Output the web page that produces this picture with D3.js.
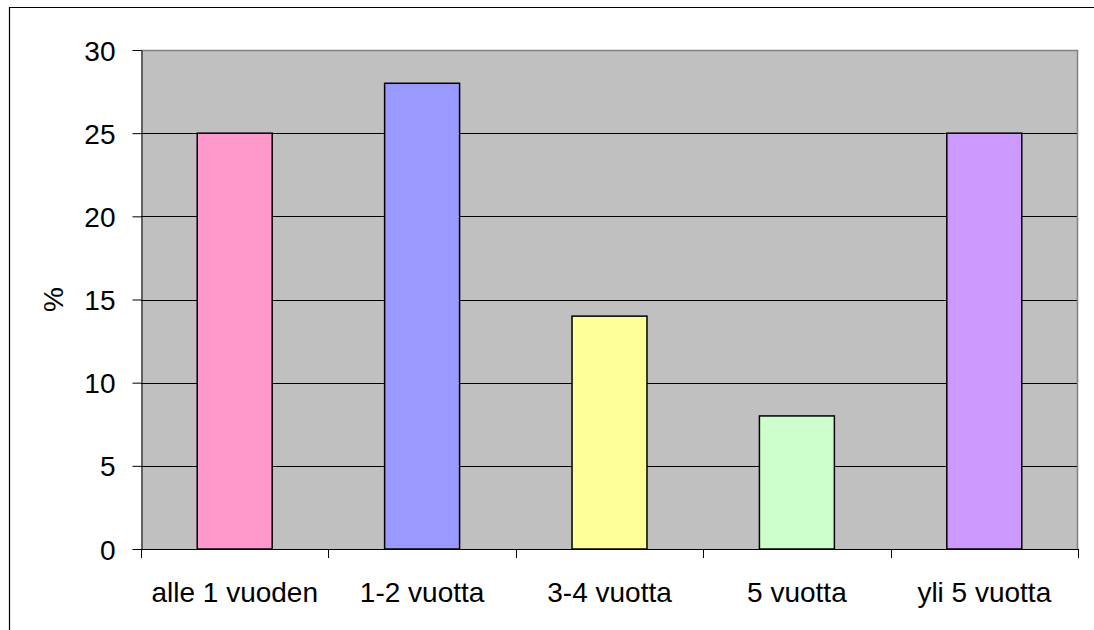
<!DOCTYPE html>
<html><head><meta charset="utf-8">
<script src="https://cdn.jsdelivr.net/npm/d3@7"></script>
<style>body{margin:0;background:#fff}svg{display:block}text{font-family:"Liberation Sans",Arial,sans-serif}</style>
</head><body>
<script>
const categories = ["alle 1 vuoden", "1-2 vuotta", "3-4 vuotta", "5 vuotta", "yli 5 vuotta"];
const values = [25, 28, 14, 8, 25];
const colors = ["#FF99CC", "#9999FF", "#FFFF99", "#CCFFCC", "#CC99FF"];
const yTicks = [0, 5, 10, 15, 20, 25, 30];
const yTitle = "%";

const W = 1094, H = 630;
const L = 141, R = 1078, T = 50, B = 549;
const FS = 28;
const svg = d3.select("body").append("svg").attr("width", W).attr("height", H);

// outer frame
svg.append("path").attr("d", `M9.5,${H}V7.5H${W}`).attr("fill", "none").attr("stroke", "#000").attr("stroke-width", 1.2);

const xb = d3.scaleBand().domain(categories).range([L, R]);
const y = d3.scaleLinear().domain([0, 30]).range([B, T]);

svg.append("rect").attr("x", L).attr("y", T).attr("width", R - L).attr("height", B - T).attr("fill", "#C0C0C0");

// gridlines
svg.append("g").selectAll("line").data(yTicks.filter(d => d > 0 && d < 30)).join("line")
  .attr("x1", L).attr("x2", R).attr("y1", d => Math.round(y(d)) + 0.5).attr("y2", d => Math.round(y(d)) + 0.5)
  .attr("stroke", "#000").attr("stroke-width", 1);

// plot border top/right gray
svg.append("path").attr("d", `M${L},${T + 0.5}H${R - 0.5}V${B}`).attr("fill", "none").attr("stroke", "#808080").attr("stroke-width", 1.5);

// bars
svg.append("g").selectAll("rect").data(categories).join("rect")
  .attr("x", d => xb(d) + xb.bandwidth() * 0.3)
  .attr("width", xb.bandwidth() * 0.4)
  .attr("y", (d, i) => y(values[i]))
  .attr("height", (d, i) => B - y(values[i]))
  .attr("fill", (d, i) => colors[i])
  .attr("stroke", "#000").attr("stroke-width", 1.5);

// y axis
const ya = svg.append("g").attr("transform", `translate(${L + 0.5},0)`)
  .call(d3.axisLeft(y).tickValues(yTicks).tickSize(9).tickPadding(17).tickSizeOuter(0));
ya.attr("font-size", null).attr("font-family", null);
ya.select(".domain").attr("stroke", "#000");
ya.selectAll(".tick line").attr("stroke", "#000");
ya.selectAll("text").style("font-size", FS + "px").attr("fill", "#000").attr("dy", "0.36em");

// x axis
const xa = svg.append("g").attr("transform", `translate(0,${B + 0.5})`)
  .call(d3.axisBottom(xb).tickSize(0).tickSizeOuter(0).tickPadding(0));
xa.attr("font-size", null).attr("font-family", null);
xa.select(".domain").attr("stroke", "#000").attr("d", `M${L},0H${R}`);
xa.selectAll("text").style("font-size", FS + "px").attr("fill", "#000").attr("dy", null).attr("y", 52);
// tick marks at band boundaries
const bounds = categories.map(c => xb(c)).concat([R]);
svg.append("g").selectAll("line").data(bounds).join("line")
  .attr("x1", d => Math.round(d) + 0.5).attr("x2", d => Math.round(d) + 0.5)
  .attr("y1", B).attr("y2", B + 9).attr("stroke", "#000");

// y title
svg.append("text").attr("transform", `translate(63,${(T + B) / 2}) rotate(-90)`)
  .attr("text-anchor", "middle").style("font-size", FS + "px").text(yTitle);
</script>
</body></html>
